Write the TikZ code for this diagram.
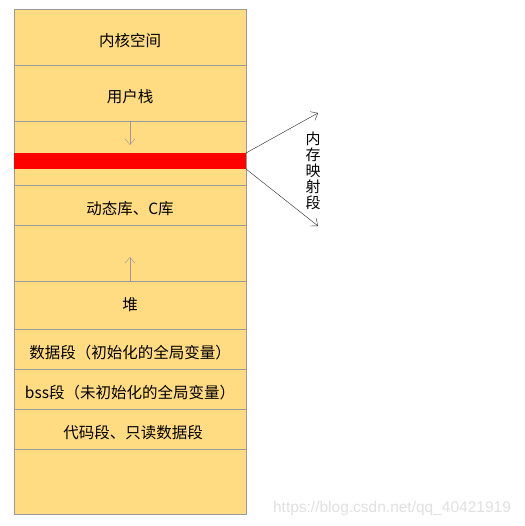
\documentclass[tikz,border=0pt]{standalone}
\usepackage{fontspec}
\setmainfont{Noto Sans CJK SC}
\newfontfamily\urlfont{Liberation Sans}
\usetikzlibrary{positioning,calc,arrows.meta}
\definecolor{segfill}{HTML}{FFDC82}
\definecolor{segline}{HTML}{999999}
\tikzstyle{seg} = [draw=segline, fill=segfill, rectangle, minimum width=232pt, inner sep=0pt, outer sep=0pt, text height=18.5pt, text depth=0pt, text centered, font=\fontsize{15.5}{16}\selectfont]
\tikzstyle{band} = [fill=red, rectangle, minimum width=232pt, minimum height=16pt, inner sep=0pt, outer sep=0pt]
\tikzstyle{growline} = [draw=segline, -{Straight Barb[length=6pt,width=10pt]}]
\tikzstyle{line} = [draw=black!85, -{Straight Barb[length=6pt,width=10pt]}]

\begin{document}
\begin{tikzpicture}[x=1pt, y=1pt, node distance=0pt]
        \useasboundingbox (0,0) rectangle (524,526);
        \node[seg, minimum height=56pt, anchor=north] (kernel) at (130,517) {内核空间};
        \node[seg, minimum height=56pt, below=of kernel] (stack) {用户栈};
        \node[seg, minimum height=64pt, below=of stack] (gapup) {};
        \node[seg, minimum height=40pt, below=of gapup] (dynlib) {动态库、C库};
        \node[seg, minimum height=56pt, below=of dynlib] (gapdown) {};
        \node[seg, minimum height=48pt, text height=12pt, below=of gapdown] (heap) {堆};
        \node[seg, minimum height=40pt, below=of heap] (data) {数据段（初始化的全局变量）};
        \node[seg, minimum height=40pt, below=of data] (bss) {bss段（未初始化的全局变量）};
        \node[seg, minimum height=40pt, below=of bss] (code) {\hspace*{6pt}代码段、只读数据段};
        \node[seg, minimum height=65pt, below=of code] (bottom) {};
        \node[band, below=32pt of stack] (mmap) {};
        \coordinate (stackend) at ($(gapup.north)+(0,-24)$);
        \coordinate (heapend) at ($(heap.north)+(0,24)$);
        \coordinate (mapup) at (318,413);
        \coordinate (mapdown) at (318,300);
        \node[font=\fontsize{15}{16}\selectfont, align=center] (maplabel) at (313,355) {内\\存\\映\\射\\段};
        \path[growline] (gapup.north) -- (stackend);
        \path[growline] (heap.north) -- (heapend);
        \path[line] (mmap.north east) -- (mapup);
        \path[line] (mmap.south east) -- (mapdown);
        \node[font=\urlfont\fontsize{15.5}{15.5}\selectfont, text=black!12] (site) at (392,18) {https://blog.csdn.net/qq\_40421919};
    \end{tikzpicture}
\end{document}
